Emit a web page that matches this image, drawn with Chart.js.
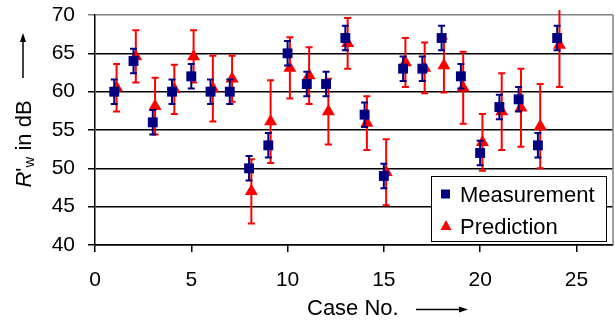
<!DOCTYPE html>
<html>
<head>
<meta charset="utf-8">
<script src="https://cdn.jsdelivr.net/npm/chart.js@4/dist/chart.umd.min.js"></script>
<style>
  html, body { margin: 0; padding: 0; background: #fff; }
  #wrap { width: 615px; height: 320px; }
</style>
</head>
<body>
<div id="wrap"><canvas id="chart" width="615" height="320"></canvas></div>
<script>
// values
const cases = [1, 2, 3, 4, 5, 6, 7, 8, 9, 10, 11, 12, 13, 14, 15, 16, 17, 18, 19, 20, 21, 22, 23, 24];
const measured = [60, 64, 56, 60, 62, 60, 60, 50, 53, 65, 61, 61, 67, 57, 49, 63, 63, 67, 62, 52, 58, 59, 53, 67];
const measuredErr = [1.6, 1.6, 1.6, 1.6, 1.6, 1.6, 1.6, 1.6, 1.6, 1.6, 1.6, 1.6, 1.6, 1.6, 1.6, 1.6, 1.6, 1.6, 1.6, 1.6, 1.6, 1.6, 1.6, 1.6];
const predicted = [60.5, 64.6, 58.1, 60.3, 64.6, 60.4, 61.7, 47.0, 56.1, 63.1, 62.1, 57.4, 66.3, 55.9, 49.5, 63.8, 63.1, 63.4, 60.5, 53.4, 57.4, 57.9, 55.5, 66.1];
const predictedErr = [3.1, 3.4, 3.7, 3.2, 3.4, 4.3, 3.0, 4.2, 5.4, 4.0, 3.7, 4.3, 3.3, 3.5, 4.3, 3.2, 3.3, 3.5, 4.7, 3.7, 5.0, 5.1, 5.5, 5.5];
const predOffset = 0.12; // prediction markers sit a little to the right
const xTicks = [0, 5, 10, 15, 20, 25];
const yTicks = [40, 45, 50, 55, 60, 65, 70];

const BLUE = "#000080";
const RED = "#ff0000";
const FONT = "'Liberation Sans', Arial, sans-serif";

const measPoints = cases.map((c, i) => ({ x: c, y: measured[i], err: measuredErr[i] }));
const predPoints = cases.map((c, i) => ({ x: c + predOffset, y: predicted[i], err: predictedErr[i] }));

// error bars drawn just before each dataset so markers sit on top
const errorBars = {
  id: "errorBars",
  beforeDatasetDraw(chart, args) {
    const ds = chart.data.datasets[args.index];
    const xs = chart.scales.x, ys = chart.scales.y;
    const ctx = chart.ctx;
    const area = chart.chartArea;
    ctx.save();
    ctx.beginPath();
    ctx.rect(area.left, area.top - 5, area.right - area.left, area.bottom - area.top + 5);
    ctx.clip();
    ctx.strokeStyle = ds.borderColor;
    ctx.lineWidth = 2;
    const cap = 3.5;
    ds.data.forEach(p => {
      const x = xs.getPixelForValue(p.x);
      const y1 = ys.getPixelForValue(p.y + p.err);
      const y2 = ys.getPixelForValue(p.y - p.err);
      ctx.beginPath();
      ctx.moveTo(x, y1); ctx.lineTo(x, y2);
      ctx.moveTo(x - cap, y1); ctx.lineTo(x + cap, y1);
      ctx.moveTo(x - cap, y2); ctx.lineTo(x + cap, y2);
      ctx.stroke();
    });
    ctx.restore();
  }
};

// plot border, axis titles with arrows, legend box
const decorations = {
  id: "decorations",
  afterDraw(chart) {
    const ctx = chart.ctx;
    const a = chart.chartArea;
    ctx.save();

    // grey right edge of the plot area
    ctx.strokeStyle = "#808080";
    ctx.lineWidth = 1.5;
    ctx.beginPath();
    ctx.moveTo(a.right, a.top); ctx.lineTo(a.right, a.bottom);
    ctx.stroke();

    // x title
    ctx.fillStyle = "#000";
    ctx.strokeStyle = "#000";
    ctx.font = "22px " + FONT;
    ctx.textBaseline = "alphabetic";
    ctx.textAlign = "left";
    ctx.fillText("Case No.", 307, 315);
    ctx.lineWidth = 1.5;
    ctx.beginPath();
    ctx.moveTo(416, 309.5); ctx.lineTo(462, 309.5);
    ctx.stroke();
    ctx.beginPath();
    ctx.moveTo(468, 309.5); ctx.lineTo(459, 306.5); ctx.lineTo(459, 312.5); ctx.closePath();
    ctx.fill();

    // y title, rotated
    ctx.save();
    ctx.translate(31, 144);
    ctx.rotate(-Math.PI / 2);
    const parts = [
      { t: "R", f: "italic 22px " + FONT, dy: 0 },
      { t: "'", f: "22px " + FONT, dy: 0 },
      { t: "w", f: "15px " + FONT, dy: 3 },
      { t: " in dB", f: "22px " + FONT, dy: 0 }
    ];
    let total = 0;
    parts.forEach(p => { ctx.font = p.f; p.w = ctx.measureText(p.t).width; total += p.w; });
    let cx = -total / 2;
    parts.forEach(p => { ctx.font = p.f; ctx.fillText(p.t, cx, p.dy); cx += p.w; });
    ctx.restore();
    ctx.beginPath();
    ctx.moveTo(23, 78); ctx.lineTo(23, 40);
    ctx.stroke();
    ctx.beginPath();
    ctx.moveTo(23, 33); ctx.lineTo(20, 42); ctx.lineTo(26, 42); ctx.closePath();
    ctx.fill();

    // legend
    const lx = 431, ly = 176, lw = 175, lh = 65;
    ctx.fillStyle = "#fff";
    ctx.fillRect(lx, ly, lw, lh);
    ctx.strokeStyle = "#000";
    ctx.lineWidth = 1;
    ctx.strokeRect(lx + 0.5, ly + 0.5, lw, lh);
    chart.data.datasets.forEach((ds, i) => {
      const my = 194 + i * 32;
      ctx.fillStyle = ds.backgroundColor;
      if (ds.pointStyle === "rect") {
        ctx.fillRect(441, my - 4.5, 9, 9);
      } else {
        ctx.beginPath();
        ctx.moveTo(446, my - 6); ctx.lineTo(451.5, my + 4); ctx.lineTo(440.5, my + 4); ctx.closePath();
        ctx.fill();
      }
      ctx.fillStyle = "#000";
      ctx.font = "22px " + FONT;
      ctx.fillText(ds.label, 460, my + 8);
    });
    ctx.restore();
  }
};

new Chart(document.getElementById("chart").getContext("2d"), {
  type: "scatter",
  data: {
    datasets: [
      {
        label: "Measurement",
        data: measPoints,
        pointStyle: "rect",
        pointRadius: 7,
        pointHoverRadius: 7,
        borderWidth: 0,
        backgroundColor: BLUE,
        borderColor: BLUE
      },
      {
        label: "Prediction",
        data: predPoints,
        pointStyle: "triangle",
        pointRadius: 7.5,
        pointHoverRadius: 7.5,
        borderWidth: 0,
        backgroundColor: RED,
        borderColor: RED
      }
    ]
  },
  options: {
    responsive: false,
    animation: false,
    layout: { autoPadding: false, padding: { top: 15, right: 2, left: 0, bottom: 0 } },
    plugins: {
      legend: { display: false },
      tooltip: { enabled: false }
    },
    scales: {
      x: {
        type: "linear",
        min: 0,
        max: 26.9,
        afterBuildTicks: scale => { scale.ticks = xTicks.map(v => ({ value: v })); },
        afterFit: scale => { scale.height = 75; scale.paddingLeft = 0; scale.paddingRight = 0; },
        grid: { drawOnChartArea: false, drawTicks: true, tickLength: 7, color: "#000", lineWidth: 1.5 },
        border: { color: "#000", width: 1.5 },
        ticks: { color: "#000", font: { family: FONT, size: 21 }, padding: 16, maxRotation: 0 }
      },
      y: {
        min: 40,
        max: 70,
        afterBuildTicks: scale => { scale.ticks = yTicks.map(v => ({ value: v })); },
        afterFit: scale => { scale.width = 95; scale.paddingTop = 0; scale.paddingBottom = 0; },
        grid: {
          tickLength: 7,
          lineWidth: 1.5,
          color: c => (c.tick && c.tick.value === 70 ? "#808080" : "#000")
        },
        border: { color: "#000", width: 1.5 },
        ticks: { color: "#000", font: { family: FONT, size: 21 }, padding: 13 }
      }
    }
  },
  plugins: [errorBars, decorations]
});
</script>
</body>
</html>
